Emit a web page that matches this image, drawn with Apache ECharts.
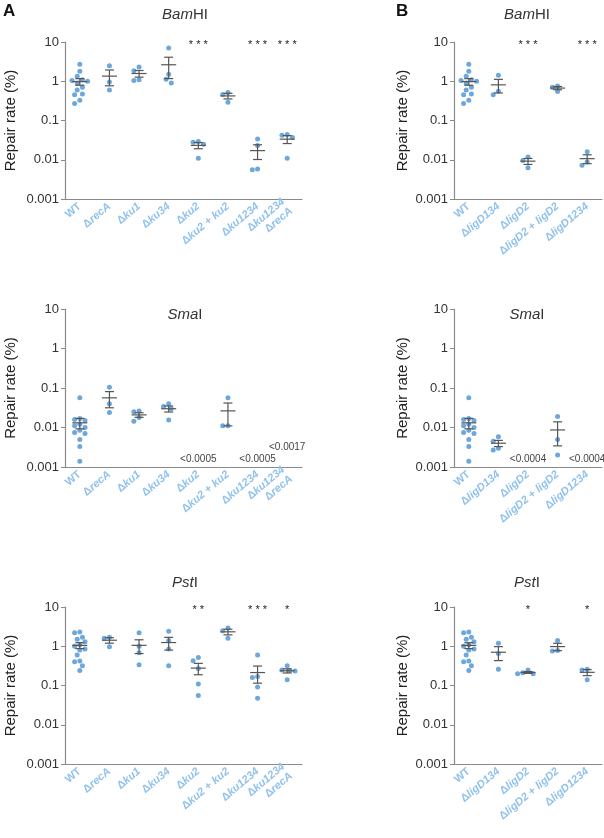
<!DOCTYPE html>
<html><head><meta charset="utf-8">
<script src="https://cdn.jsdelivr.net/npm/echarts@6/dist/echarts.min.js"></script>
<style>html,body{margin:0;padding:0;background:#fff}#c{width:604px;height:838px}</style>
</head><body><div id="c"></div>
<script>
// ---------- categories & ticks ----------
const catsA = ['WT', 'ΔrecA', 'Δku1', 'Δku34', 'Δku2', 'Δku2 + ku2', 'Δku1234', 'Δku1234\nΔrecA'];
const catsB = ['WT', 'ΔligD134', 'ΔligD2', 'ΔligD2 + ligD2', 'ΔligD1234'];
const yTickValues = [0.001, 0.01, 0.1, 1, 10];

// ---------- BamHI ----------
const bamWT = [2.7, 1.8, 1.35, 1.1, 1.05, 1.0, 0.9, 0.7, 0.6, 0.47, 0.45, 0.33, 0.27];
const bamRecA = [2.5, 0.95, 0.6];
const bamKu1 = [2.3, 1.85, 1.1, 1.05];
const bamKu34 = [7.0, 1.5, 1.12, 0.9];
const bamKu2 = [0.029, 0.028, 0.025, 0.011];
const bamKu2c = [0.52, 0.46, 0.29];
const bamKu1234 = [0.034, 0.023, 0.0058, 0.0056];
const bamKu1234RecA = [0.044, 0.042, 0.037, 0.011];
const bamLigD134 = [1.42, 0.56, 0.45];
const bamLigD2 = [0.0118, 0.0095, 0.0063];
const bamLigD2c = [0.76, 0.7, 0.55];
const bamLigD1234 = [0.016, 0.0088, 0.0072];

// ---------- SmaI ----------
const smaWT = [0.057, 0.017, 0.016, 0.015, 0.012, 0.011, 0.010, 0.0085, 0.0075, 0.007, 0.005, 0.0033, 0.0014];
const smaRecA = [0.105, 0.04, 0.024];
const smaKu1 = [0.026, 0.025, 0.018, 0.0145];
const smaKu34 = [0.04, 0.034, 0.03, 0.0155];
const smaKu2 = [];
const smaKu2c = [0.057, 0.011, 0.011];
const smaKu1234 = [];
const smaKu1234RecA = [];
const smaLigD134 = [0.0058, 0.0045, 0.003, 0.0027];
const smaLigD2 = [];
const smaLigD2c = [0.019, 0.005, 0.002];
const smaLigD1234 = [];

// ---------- PstI ----------
const pstWT = [2.3, 2.2, 1.7, 1.5, 1.3, 1.1, 1.0, 0.85, 0.8, 0.6, 0.42, 0.4, 0.32, 0.24];
const pstRecA = [1.7, 1.6, 0.97];
const pstKu1 = [2.2, 1.0, 0.68, 0.34];
const pstKu34 = [2.4, 1.4, 0.85, 0.32];
const pstKu2 = [0.52, 0.43, 0.27, 0.11, 0.056];
const pstKu2c = [2.9, 2.5, 1.6];
const pstKu1234 = [0.6, 0.17, 0.16, 0.092, 0.047];
const pstKu1234RecA = [0.32, 0.25, 0.24, 0.235, 0.14];
const pstLigD134 = [1.2, 0.65, 0.26];
const pstLigD2 = [0.25, 0.21, 0.2, 0.2];
const pstLigD2c = [1.4, 0.78, 0.76];
const pstLigD1234 = [0.26, 0.25, 0.14];

// ---------- significance marks / detection-limit notes ----------
const starsBamA = ['', '', '', '', '***', '', '***', '***'];
const starsBamB = ['', '', '***', '', '***'];
const notesSmaA = ['', '', '', '', '<0.0005', '', '<0.0005', '<0.0017'];
const notesSmaB = ['', '', '<0.0004', '', '<0.0004'];
const starsPstA = ['', '', '', '', '**', '', '***', '*'];
const starsPstB = ['', '', '*', '', '*'];

const bamA = [bamWT, bamRecA, bamKu1, bamKu34, bamKu2, bamKu2c, bamKu1234, bamKu1234RecA];
const bamB = [bamWT, bamLigD134, bamLigD2, bamLigD2c, bamLigD1234];
const smaA = [smaWT, smaRecA, smaKu1, smaKu34, smaKu2, smaKu2c, smaKu1234, smaKu1234RecA];
const smaB = [smaWT, smaLigD134, smaLigD2, smaLigD2c, smaLigD1234];
const pstA = [pstWT, pstRecA, pstKu1, pstKu34, pstKu2, pstKu2c, pstKu1234, pstKu1234RecA];
const pstB = [pstWT, pstLigD134, pstLigD2, pstLigD2c, pstLigD1234];

// ---------- layout ----------
const FONT = '"Liberation Sans", Arial, Helvetica, sans-serif';
const DOT = '#6ea7db', LABEL = '#90c2ec', BAR = '#555', AXIS = '#8a8a8a';
const LA = 65, WA = 237, LB = 454, WB = 148;
const panels = [
  {cats: catsA, groups: bamA, marks: starsBamA, kind: 'star', title: ['Bam', 'HI'], tx: 185, ty: 15, left: LA, width: WA, top: 42, height: 157},
  {cats: catsB, groups: bamB, marks: starsBamB, kind: 'star', title: ['Bam', 'HI'], tx: 527, ty: 15, left: LB, width: WB, top: 42, height: 157},
  {cats: catsA, groups: smaA, marks: notesSmaA, kind: 'note', title: ['Sma', 'I'], tx: 185, ty: 315, left: LA, width: WA, top: 309, height: 158},
  {cats: catsB, groups: smaB, marks: notesSmaB, kind: 'note', title: ['Sma', 'I'], tx: 527, ty: 315, left: LB, width: WB, top: 309, height: 158},
  {cats: catsA, groups: pstA, marks: starsPstA, kind: 'star', title: ['Pst', 'I'], tx: 185, ty: 583, left: LA, width: WA, top: 607, height: 157},
  {cats: catsB, groups: pstB, marks: starsPstB, kind: 'star', title: ['Pst', 'I'], tx: 527, ty: 583, left: LB, width: WB, top: 607, height: 157}
];

function swarmOffsets(vals, pxPerDecade, d) {
  const pts = vals.map((v, i) => ({i, y: -Math.log10(v) * pxPerDecade}));
  pts.sort((a, b) => a.y - b.y);
  const placed = [];
  const off = new Array(vals.length).fill(0);
  for (const p of pts) {
    for (let k = 0; k < 40; k++) {
      const c = k === 0 ? 0 : (k % 2 ? -1 : 1) * Math.ceil(k / 2) * d * 0.5;
      if (placed.every(q => Math.hypot(q.x - c, q.y - p.y) >= d)) {
        off[p.i] = c; placed.push({x: c, y: p.y}); break;
      }
    }
  }
  return off;
}
function stats(a) {
  const n = a.length, m = a.reduce((s, v) => s + v, 0) / n;
  const sd = Math.sqrt(a.reduce((s, v) => s + (v - m) * (v - m), 0) / (n - 1));
  return [m, sd / Math.sqrt(n)];
}
function catLabel(v) {
  if (v === 'WT') return '{n|WT}';
  return v.split('\n').map(line =>
    line.split(' ').map(tok => {
      if (tok === '+') return '{n|+}';
      if (tok.startsWith('Δ')) return '{n|Δ}{i|' + tok.slice(1) + '}';
      return '{i|' + tok + '}';
    }).join('{n| }')
  ).join('\n');
}

const grid = [], xAxis = [], yAxis = [], series = [], graphic = [];
graphic.push({type: 'text', x: 3, y: 3, style: {text: 'A', fontSize: 17, fontWeight: 'bold', fill: '#111', fontFamily: FONT}});
graphic.push({type: 'text', x: 396, y: 3, style: {text: 'B', fontSize: 17, fontWeight: 'bold', fill: '#111', fontFamily: FONT}});

panels.forEach((p, k) => {
  grid.push({left: p.left, top: p.top, width: p.width, height: p.height, containLabel: false});
  xAxis.push({
    type: 'category', gridIndex: k, data: p.cats, boundaryGap: true,
    axisLine: {lineStyle: {color: AXIS, width: 1.2}},
    axisTick: {alignWithLabel: true, length: 4, lineStyle: {color: AXIS}},
    axisLabel: {
      interval: 0, rotate: 40, margin: 6, color: LABEL, fontSize: 11, fontWeight: 'bold', fontFamily: FONT,
      formatter: catLabel, lineHeight: 12,
      rich: {
        n: {color: LABEL, fontSize: 11, fontWeight: 'bold', fontFamily: FONT},
        i: {color: LABEL, fontSize: 11, fontWeight: 'bold', fontStyle: 'italic', fontFamily: FONT}
      }
    },
    splitLine: {show: false}
  });
  yAxis.push({
    type: 'log', logBase: 10, gridIndex: k, min: 0.001, max: 10,
    name: 'Repair rate (%)', nameLocation: 'middle', nameGap: p.left === LA ? 47 : 44,
    nameTextStyle: {fontSize: 15, color: '#222', fontFamily: FONT},
    axisLine: {show: true, lineStyle: {color: AXIS, width: 1.2}},
    axisTick: {show: true, length: 4, lineStyle: {color: AXIS}},
    axisLabel: {
      margin: 6, color: '#333', fontSize: 13, fontFamily: FONT,
      formatter: v => { const r = Number(Number(v).toPrecision(1)); return yTickValues.includes(r) ? String(r) : ''; }
    },
    splitLine: {show: false}
  });
  const pxPerDecade = p.height / 4;
  const dots = [], bars = [];
  p.groups.forEach((vals, ci) => {
    if (!vals.length) return;
    const off = swarmOffsets(vals, pxPerDecade, 5.2);
    vals.forEach((v, j) => dots.push({value: [ci, v], symbolOffset: [off[j], 0]}));
    const [m, se] = stats(vals);
    bars.push([ci, m, m - se, m + se]);
  });
  series.push({
    type: 'scatter', xAxisIndex: k, yAxisIndex: k, data: dots, symbolSize: 5,
    itemStyle: {color: DOT, opacity: 1}, z: 2, silent: true
  });
  series.push({
    type: 'custom', xAxisIndex: k, yAxisIndex: k, data: bars, z: 3, silent: true,
    encode: {x: 0, y: [1, 2, 3]},
    renderItem: (params, api) => {
      const x = api.value(0);
      const pm = api.coord([x, api.value(1)]);
      const pl = api.coord([x, api.value(2)]);
      const ph = api.coord([x, api.value(3)]);
      const st = {stroke: BAR, lineWidth: 1.2};
      return {type: 'group', children: [
        {type: 'line', shape: {x1: pm[0] - 7.5, y1: pm[1], x2: pm[0] + 7.5, y2: pm[1]}, style: st},
        {type: 'line', shape: {x1: pm[0], y1: ph[1], x2: pm[0], y2: pl[1]}, style: st},
        {type: 'line', shape: {x1: pm[0] - 4.5, y1: ph[1], x2: pm[0] + 4.5, y2: ph[1]}, style: st},
        {type: 'line', shape: {x1: pm[0] - 4.5, y1: pl[1], x2: pm[0] + 4.5, y2: pl[1]}, style: st}
      ]};
    }
  });
  const markData = [], markText = [];
  p.marks.forEach((t, ci) => {
    if (!t) return;
    if (p.kind === 'star') { markData.push([ci, 10]); markText.push(t.split('').join(' ')); }
    else { markData.push([ci, t === '<0.0017' ? 0.0031 : 0.00155]); markText.push(t); }
  });
  series.push({
    type: 'custom', xAxisIndex: k, yAxisIndex: k, data: markData, z: 4, silent: true,
    encode: {x: 0, y: 1},
    renderItem: (params, api) => {
      const c = api.coord([api.value(0), api.value(1)]);
      const star = p.kind === 'star';
      return {type: 'text', x: c[0], y: c[1] + (star ? 2.5 : 0), style: {
        text: markText[params.dataIndex], fill: star ? '#222' : '#444',
        fontSize: star ? 11 : 10, fontFamily: FONT, align: 'center', verticalAlign: 'middle'
      }};
    }
  });
  graphic.push({type: 'text', x: p.tx, y: p.ty, style: {
    text: '{i|' + p.title[0] + '}' + p.title[1], fontSize: 15, fill: '#333', fontFamily: FONT,
    align: 'center', verticalAlign: 'middle',
    rich: {i: {fontStyle: 'italic', fontSize: 15, fill: '#333', fontFamily: FONT}}
  }});
});

const chart = echarts.init(document.getElementById('c'), null, {renderer: 'canvas'});
chart.setOption({animation: false, backgroundColor: '#fff', grid, xAxis, yAxis, series, graphic});
</script></body></html>
